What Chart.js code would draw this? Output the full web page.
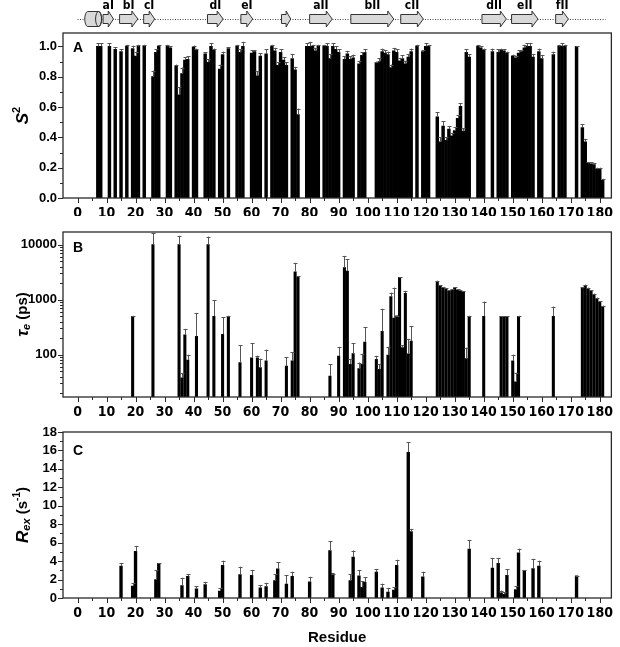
<!DOCTYPE html>
<html><head><meta charset="utf-8">
<script src="https://cdn.jsdelivr.net/npm/chart.js@4/dist/chart.umd.min.js"></script>
<style>
html,body{margin:0;padding:0;background:#fff;}
#wrap{position:relative;width:620px;height:647px;overflow:hidden;}
.c{position:absolute;left:0;width:620px;}
</style></head><body>
<div id="wrap">
<div class="c" style="top:0;height:216px"><canvas id="ca"></canvas></div>
<div class="c" style="top:216px;height:200px"><canvas id="cb"></canvas></div>
<div class="c" style="top:416px;height:231px"><canvas id="cc"></canvas></div>
</div>
<script>
// ---------- tick labels ----------
const xTicks = [0,10,20,30,40,50,60,70,80,90,100,110,120,130,140,150,160,170,180];
const aTicks = [0.0,0.2,0.4,0.6,0.8,1.0];
const bTicks = [100,1000,10000];
const cTicks = [0,2,4,6,8,10,12,14,16,18];

// ---------- secondary structure (residue ranges) ----------
const ssLabel = ['', 'aI','bI','cI','dI','eI','', 'aII','bII','cII','dII','eII','fII'];
const ssType  = ['H','E','E','E','E','E','E','E','E','E','E','E','E'];
const ssStart = [2.5, 8.8, 14.5, 22.8, 44.8, 56.3, 70.3, 80.0, 94.2, 111.4, 139.4, 149.6, 164.8];
const ssEnd   = [8.3, 12.4, 20.8, 26.6, 50.2, 60.4, 73.5, 87.8, 109.0, 119.2, 147.8, 158.7, 169.2];

// ---------- panel A : S2 ----------
const aRes = [7,8,11,13,15,17,19,20,21,23,26,27,28,31,32,34,35,36,37,38,40,41,44,45,46,47,49,50,52,55,56,57,60,61,62,63,65,67,68,69,70,71,72,74,75,76,79,80,81,82,83,85,86,87,88,89,90,92,93,94,95,97,98,99,103,104,105,106,107,108,109,110,111,112,113,114,115,117,119,120,121,124,125,126,127,128,129,130,131,132,133,134,135,138,139,140,143,145,146,147,148,150,151,152,153,154,155,156,157,159,160,164,166,167,168,172,174,175,176,177,178,179,180,181];
const aVal = [1.0,1.0,1.0,0.98,0.965,1.0,0.985,0.935,1.0,1.0,0.80,0.96,1.0,1.0,0.99,0.87,0.68,0.82,0.91,0.915,0.995,0.975,0.95,0.895,1.0,0.975,0.85,0.945,0.985,1.0,0.96,1.0,0.955,0.965,0.805,0.935,0.95,1.0,0.97,0.875,0.96,0.91,0.875,0.92,0.845,0.55,1.0,1.0,1.0,0.97,1.0,1.0,1.0,0.92,1.0,0.98,0.96,0.915,0.95,0.915,0.925,0.885,0.94,0.96,0.89,0.90,0.965,0.955,0.945,0.86,0.97,0.96,0.905,0.92,0.885,0.93,0.965,1.0,0.965,1.0,1.0,0.535,0.37,0.475,0.38,0.455,0.41,0.445,0.525,0.605,0.44,0.96,0.93,1.0,0.99,0.975,0.965,0.96,0.975,0.97,0.955,0.935,0.925,0.955,0.965,0.99,1.0,1.0,0.93,0.965,0.92,0.945,1.0,1.0,1.0,1.0,0.465,0.37,0.228,0.225,0.22,0.19,0.19,0.117];
const aErr = [0.02,0.02,0.02,0.015,0.015,0.01,0.02,0.03,0.01,0.01,0.04,0.02,0.01,0.01,0.01,0.01,0.05,0.04,0.02,0.02,0.01,0.01,0.01,0.02,0.02,0.01,0.03,0.02,0.01,0.01,0.02,0.03,0.02,0.01,0.03,0.02,0.03,0.01,0.02,0.02,0.02,0.02,0.02,0.03,0.02,0.04,0.02,0.03,0.01,0.02,0.01,0.01,0.02,0.03,0.02,0.02,0.02,0.02,0.02,0.02,0.02,0.02,0.02,0.02,0.01,0.02,0.02,0.02,0.02,0.02,0.02,0.02,0.02,0.02,0.02,0.02,0.02,0.01,0.01,0.02,0.01,0.03,0.03,0.03,0.02,0.02,0.02,0.02,0.02,0.02,0.02,0.02,0.02,0.01,0.01,0.01,0.02,0.02,0.01,0.01,0.01,0.01,0.01,0.02,0.01,0.02,0.02,0.02,0.02,0.02,0.02,0.02,0.01,0.02,0.01,0,0.02,0.02,0.01,0.01,0.01,0.01,0.01,0.01];

// ---------- panel B : tau_e (ps) ----------
const bRes = [19,26,35,36,37,38,41,45,47,50,52,56,60,62,63,65,72,74,75,76,87,90,92,93,94,95,97,98,99,103,104,105,107,108,109,110,111,112,113,114,115,124,125,126,127,128,129,130,131,132,133,134,135,140,146,147,148,150,151,152,164,174,175,176,177,178,179,180,181];
const bVal = [500,10000,10000,38,230,80,215,10000,500,235,500,72,88,88,58,77,62,77,3200,2600,41,94,3850,3300,67,105,56,67,169,82,54,266,98,1140,464,511,2540,134,1310,104,176,2120,1770,1650,1590,1440,1500,1650,1500,1440,1380,85,500,500,500,500,500,77,32,500,500,1600,1800,1600,1450,1250,1050,900,750];
const bErr = [10,6000,4500,8,65,20,360,4000,470,245,10,77,72,8,27,47,28,34,1470,100,26,45,2400,2100,17,55,16,37,150,13,13,417,41,200,1190,0,0,16,140,90,151,100,80,50,40,40,40,40,40,40,40,49,10,425,0,0,0,23,15,10,250,100,80,60,40,40,40,30,30];

// ---------- panel C : Rex (s-1) ----------
const cRes = [15,19,20,27,28,36,38,41,44,49,50,56,60,63,65,68,69,72,74,80,87,88,94,95,97,98,99,103,105,107,109,110,114,115,119,135,143,145,146,147,148,151,152,154,157,159,172];
const cVal = [3.45,1.3,5.05,2.0,3.75,1.35,2.35,1.0,1.45,0.75,3.55,2.55,2.45,1.1,1.25,1.9,3.15,1.5,2.35,1.75,5.15,2.65,1.9,4.45,2.4,1.15,1.7,2.8,1.1,0.65,0.85,3.55,15.8,7.2,2.3,5.3,3.25,3.75,0.55,0.4,2.45,0.9,4.9,3.0,3.2,3.45,2.4];
const cErr = [0.3,0.3,0.6,1.0,0.05,0.85,0.2,0.3,0.3,0.35,0.5,0.85,0.6,0.3,0.4,0.7,0.75,0.95,0.5,0.55,1.0,0,0.65,0.7,0.6,0.65,0.55,0.35,0.45,0.45,0.35,0.6,1.1,0.3,0.55,1.0,1.1,0.6,0.25,0.25,0.65,0.35,0.45,0,1.05,0.6,0];

const X_MIN = -5, X_MAX = 184;
const SANS = '"Liberation Sans", Arial, sans-serif';
const NARROW = '"Liberation Sans Narrow", "DejaVu Sans Condensed", "Liberation Sans", sans-serif';

function minorList(majors, step){ const out=[]; majors.forEach(v=>out.push(v+step)); return out; }
const xMinor = minorList(xTicks.slice(0,-1), 5);
const aMinor = minorList(aTicks.slice(0,-1), 0.1);
const cMinor = minorList(cTicks.slice(0,-1), 1);
const bMinor = [];
[10,100,1000].forEach(d=>{ for(let k=2;k<=9;k++) bMinor.push(k*d); });

function drawRich(ctx, segs, cx, cy){
  let total = 0;
  segs.forEach(s=>{ ctx.font = s.f; s.w = ctx.measureText(s.t).width; total += s.w; });
  ctx.save();
  ctx.translate(cx, cy); ctx.rotate(-Math.PI/2);
  ctx.textBaseline = 'middle'; ctx.textAlign = 'left'; ctx.fillStyle = '#000';
  let x = -total/2;
  segs.forEach(s=>{ ctx.font = s.f; ctx.fillText(s.t, x, 5 + (s.dy||0)); x += s.w; });
  ctx.restore();
}

const deco = {
  id: 'deco',
  afterDatasetsDraw(chart, args, o){
    const ctx = chart.ctx, ys = chart.scales.y;
    const meta = chart.getDatasetMeta(0);
    const ds = chart.data.datasets[0];
    ctx.save();
    ctx.strokeStyle = '#555'; ctx.lineWidth = 1;
    meta.data.forEach((el, i)=>{
      const e = o.err[i]; if (e == null) return;
      const v = ds.data[i].y;
      const yt = Math.max(chart.chartArea.top, ys.getPixelForValue(v + e));
      const x = Math.round(el.x) + 0.5;
      ctx.beginPath();
      ctx.moveTo(x, el.y); ctx.lineTo(x, yt);
      ctx.moveTo(x - 2, Math.round(yt)+0.5); ctx.lineTo(x + 2, Math.round(yt)+0.5);
      ctx.stroke();
    });
    ctx.restore();
  },
  afterDraw(chart, args, o){
    const ctx = chart.ctx, a = chart.chartArea, xs = chart.scales.x, ys = chart.scales.y;
    ctx.save();
    ctx.strokeStyle = '#2a2a2a'; ctx.lineWidth = 1.3;
    ctx.strokeRect(a.left, a.top, a.right - a.left, a.bottom - a.top);
    ctx.lineWidth = 1; ctx.strokeStyle = '#2a2a2a';
    ctx.beginPath();
    xTicks.forEach(v=>{ const x = Math.round(xs.getPixelForValue(v))+0.5; ctx.moveTo(x, a.bottom); ctx.lineTo(x, a.bottom + 5); });
    xMinor.forEach(v=>{ const x = Math.round(xs.getPixelForValue(v))+0.5; ctx.moveTo(x, a.bottom); ctx.lineTo(x, a.bottom + 3); });
    o.yMajor.forEach(v=>{ const y = Math.round(ys.getPixelForValue(v))+0.5; ctx.moveTo(a.left, y); ctx.lineTo(a.left - 5, y); });
    o.yMinor.forEach(v=>{ const y = Math.round(ys.getPixelForValue(v))+0.5; ctx.moveTo(a.left, y); ctx.lineTo(a.left - 3, y); });
    ctx.stroke();
    ctx.fillStyle = '#000'; ctx.font = 'bold 14px ' + SANS; ctx.textAlign = 'left'; ctx.textBaseline = 'alphabetic';
    ctx.fillText(o.letter, a.left + 10, a.top + o.letterDy);
    drawRich(ctx, o.title, 18, (a.top + a.bottom)/2);
    if (o.xTitle){
      ctx.font = 'bold 15px ' + SANS; ctx.textAlign = 'center'; ctx.textBaseline = 'middle';
      ctx.fillText(o.xTitle, (a.left + a.right)/2, chart.height - 9);
    }
    if (o.schematic){
      const cy = 19;
      ctx.strokeStyle = '#444'; ctx.lineWidth = 1; ctx.setLineDash([1, 1.5]);
      ctx.beginPath(); ctx.moveTo(xs.getPixelForValue(0), cy + 0.5); ctx.lineTo(xs.getPixelForValue(182), cy + 0.5); ctx.stroke();
      ctx.setLineDash([]);
      ssStart.forEach((s, i)=>{
        const x0 = xs.getPixelForValue(s), x1 = xs.getPixelForValue(ssEnd[i]);
        ctx.fillStyle = '#d9d9d9'; ctx.strokeStyle = '#333'; ctx.lineWidth = 1;
        if (ssType[i] === 'H'){
          const h = 7.5;
          ctx.beginPath();
          ctx.moveTo(x0 + 3, cy - h);
          ctx.lineTo(x1 - 3, cy - h);
          ctx.ellipse(x1 - 3, cy, 3, h, 0, -Math.PI/2, Math.PI/2);
          ctx.lineTo(x0 + 3, cy + h);
          ctx.ellipse(x0 + 3, cy, 3, h, 0, Math.PI/2, Math.PI*1.5);
          ctx.closePath(); ctx.fill(); ctx.stroke();
          ctx.beginPath(); ctx.ellipse(x1 - 3, cy, 3, h, 0, 0, Math.PI*2); ctx.stroke();
        } else {
          const bh = 4.5, hh = 8, hl = Math.min(6, (x1 - x0)*0.5);
          ctx.beginPath();
          ctx.moveTo(x0, cy - bh); ctx.lineTo(x1 - hl, cy - bh); ctx.lineTo(x1 - hl, cy - hh);
          ctx.lineTo(x1, cy); ctx.lineTo(x1 - hl, cy + hh); ctx.lineTo(x1 - hl, cy + bh);
          ctx.lineTo(x0, cy + bh); ctx.closePath(); ctx.fill(); ctx.stroke();
        }
        if (ssLabel[i]){
          ctx.fillStyle = '#000'; ctx.font = 'bold 12px ' + NARROW; ctx.textAlign = 'center'; ctx.textBaseline = 'alphabetic';
          ctx.fillText(ssLabel[i], (x0 + x1)/2, 9);
        }
      });
    }
    ctx.restore();
  }
};

function xScale(h){
  return {
    type: 'linear', min: X_MIN, max: X_MAX, offset: false,
    grid: { display: false, drawTicks: false }, border: { display: false },
    afterBuildTicks: s => { s.ticks = xTicks.map(v => ({ value: v })); },
    afterFit: s => { s.height = h; },
    ticks: { autoSkip: false, maxRotation: 0, padding: 7, color: '#000',
      font: { family: NARROW, size: 14, weight: 'bold' }, callback: v => String(v) }
  };
}
function yBase(ticks, fmt){
  return {
    grid: { display: false, drawTicks: false }, border: { display: false },
    afterBuildTicks: s => { s.ticks = ticks.map(v => ({ value: v })); },
    afterFit: s => { s.width = 63; },
    ticks: { autoSkip: false, padding: 6, color: '#000',
      font: { family: SANS, size: 13, weight: 'bold' }, callback: fmt }
  };
}

function makeChart(id, res, val, err, yScale, padTop, xH, plug, thick){
  return new Chart(document.getElementById(id), {
    type: 'bar',
    data: { datasets: [{ data: res.map((r, i) => ({ x: r, y: val[i] })), backgroundColor: '#000', borderWidth: 0, barThickness: thick }] },
    options: {
      responsive: true, maintainAspectRatio: false, animation: false, devicePixelRatio: 1,
      layout: { padding: { top: padTop, right: 4, left: 0, bottom: 0 } },
      plugins: { legend: { display: false }, tooltip: { enabled: false }, deco: Object.assign({ err: err }, plug) },
      scales: { x: xScale(xH), y: yScale }
    },
    plugins: [deco]
  });
}

const yA = Object.assign(yBase(aTicks, v => Number(v).toFixed(1)), { type: 'linear', min: 0, max: 1.088 });
const yB = Object.assign(yBase(bTicks, v => String(v)), { type: 'logarithmic', min: 17, max: 17000 });
const yC = Object.assign(yBase(cTicks, v => String(v)), { type: 'linear', min: 0, max: 18 });

makeChart('ca', aRes, aVal, aErr, yA, 33, 18, {
  letter: 'A', letterDy: 19, yMajor: aTicks, yMinor: aMinor, schematic: true,
  title: [ { t: 'S', f: 'bold italic 17px ' + SANS }, { t: '2', f: 'bold 11px ' + SANS, dy: -6 } ]
}, 2.8);
makeChart('cb', bRes, bVal, bErr, yB, 16, 19, {
  letter: 'B', letterDy: 20, yMajor: bTicks, yMinor: bMinor,
  title: [ { t: 'τ', f: 'bold italic 17px ' + SANS }, { t: 'e', f: 'bold italic 11px ' + SANS, dy: 4 }, { t: ' (ps)', f: 'bold 15px ' + SANS } ]
}, 2.4);
makeChart('cc', cRes, cVal, cErr, yC, 16, 49, {
  letter: 'C', letterDy: 23, yMajor: cTicks, yMinor: cMinor, xTitle: 'Residue',
  title: [ { t: 'R', f: 'bold italic 17px ' + SANS }, { t: 'ex', f: 'bold italic 11px ' + SANS, dy: 4 }, { t: ' (s', f: 'bold 15px ' + SANS }, { t: '-1', f: 'bold 10px ' + SANS, dy: -6 }, { t: ')', f: 'bold 15px ' + SANS } ]
}, 2.7);
</script>
</body></html>
